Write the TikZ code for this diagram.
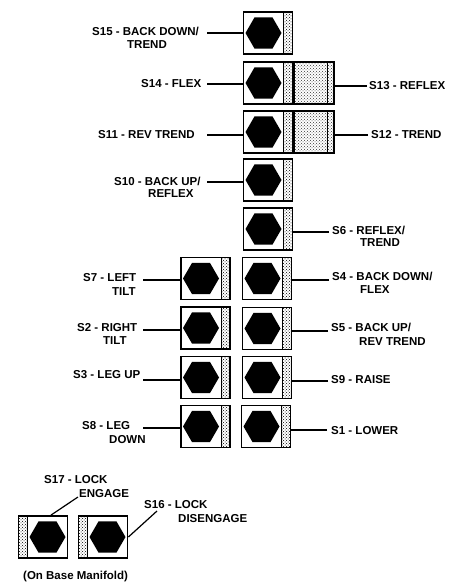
\documentclass[tikz,border=0pt]{standalone}
\usepackage{fontspec}
\setmainfont{Liberation Sans}
\usetikzlibrary{positioning,shapes,patterns}
\tikzset{
    keyright/.style={rectangle, draw, line width=1.8pt, minimum width=49pt, minimum height=42pt, inner sep=0pt,
        path picture={
            \fill[pattern=crosshatch dots, pattern color=black] ([xshift=-9pt]path picture bounding box.north east) rectangle (path picture bounding box.south east);
            \draw[line width=0.7pt] ([xshift=-9pt]path picture bounding box.north east) -- ([xshift=-9pt]path picture bounding box.south east);
            \node[hexcap] at ([xshift=-4.5pt]path picture bounding box.center) {};
        }},
    keyleft/.style={rectangle, draw, line width=1.8pt, minimum width=49pt, minimum height=42pt, inner sep=0pt,
        path picture={
            \fill[pattern=crosshatch dots, pattern color=black] ([xshift=9pt]path picture bounding box.north west) rectangle (path picture bounding box.south west);
            \draw[line width=0.7pt] ([xshift=9pt]path picture bounding box.north west) -- ([xshift=9pt]path picture bounding box.south west);
            \node[hexcap] at ([xshift=4.5pt]path picture bounding box.center) {};
        }},
    keyshaded/.style={rectangle, draw, line width=1.8pt, minimum width=40pt, minimum height=42pt, inner sep=0pt,
        pattern=crosshatch dots, pattern color=black!80,
        path picture={
            \draw[line width=0.7pt] ([xshift=-7pt]path picture bounding box.north east) -- ([xshift=-7pt]path picture bounding box.south east);
        }},
    hexcap/.style={regular polygon, regular polygon sides=6, fill=black, minimum size=36pt, inner sep=0pt},
    keylabel/.style={font=\bfseries\fontsize{11.5pt}{13pt}\selectfont, inner sep=0pt, anchor=west},
    leader/.style={line width=1.2pt}
}

\begin{document}
\begin{tikzpicture}[x=1pt, y=-1pt]
    \useasboundingbox (0,0) rectangle (461,583);

    % left column
    \node[keyright] (s7) at (205.5,278.5) {};
    \node[keyright] (s2) at (205.5,328) {};
    \node[keyright] (s3) at (205.5,377.5) {};
    \node[keyright] (s8) at (205.5,426.5) {};

    % main column
    \node[keyright] (s15) at (268,33) {};
    \node[keyright] (s14) at (268,83) {};
    \node[keyright] (s11) at (268,132) {};
    \node[keyright] (s10) at (268,180) {};
    \node[keyright] (s6) at (268,229) {};
    \node[keyright] (s4) at (267,278.5) {};
    \node[keyright] (s5) at (267,328.5) {};
    \node[keyright] (s9) at (267,377.5) {};
    \node[keyright] (s1) at (266,426.5) {};

    % the dotted ones
    \node[keyshaded, right=0pt of s14] (s13) {};
    \node[keyshaded, right=0pt of s11] (s12) {};

    % base manifold
    \node[keyleft] (s17) at (43,537) {};
    \node[keyleft] (s16) at (103,537) {};

    % left side labels
    \node[keylabel] (l15) at (92,31) {S15 - BACK DOWN/};
    \node[keylabel] (l15b) at (127,45) {TREND};
    \node[keylabel] (l14) at (141,84) {S14 - FLEX};
    \node[keylabel] (l11) at (98,135) {S11 - REV TREND};
    \node[keylabel] (l10) at (114,181) {S10 - BACK UP/};
    \node[keylabel] (l10b) at (148,194) {REFLEX};
    \node[keylabel] (l7) at (83,278) {S7 - LEFT};
    \node[keylabel] (l7b) at (112,292) {TILT};
    \node[keylabel] (l2) at (77,328) {S2 - RIGHT};
    \node[keylabel] (l2b) at (103,341) {TILT};
    \node[keylabel] (l3) at (73,375) {S3 - LEG UP};
    \node[keylabel] (l8) at (82,426) {S8 - LEG};
    \node[keylabel] (l8b) at (109,440) {DOWN};

    % right side labels
    \node[keylabel] (l13) at (369,86) {S13 - REFLEX};
    \node[keylabel] (l12) at (371,135) {S12 - TREND};
    \node[keylabel] (l6) at (332,230) {S6 - REFLEX/};
    \node[keylabel] (l6b) at (360,243) {TREND};
    \node[keylabel] (l4) at (332,276) {S4 - BACK DOWN/};
    \node[keylabel] (l4b) at (360,290) {FLEX};
    \node[keylabel] (l5) at (331,327) {S5 - BACK UP/};
    \node[keylabel] (l5b) at (359,342) {REV TREND};
    \node[keylabel] (l9) at (331,380) {S9 - RAISE};
    \node[keylabel] (l1) at (331,431) {S1 - LOWER};

    % base manifold labels
    \node[keylabel] (l17) at (44,480) {S17 - LOCK};
    \node[keylabel] (l17b) at (79,494) {ENGAGE};
    \node[keylabel] (l16) at (144,505) {S16 - LOCK};
    \node[keylabel] (l16b) at (178,519) {DISENGAGE};
    \node[keylabel] (base) at (23,577) {(On Base Manifold)};

    % free ends of the leaders
    \coordinate (c15) at (207,33);
    \coordinate (c14) at (207,84);
    \coordinate (c11) at (207,135);
    \coordinate (c10) at (207,182);
    \coordinate (c7) at (143,280);
    \coordinate (c2) at (143,330);
    \coordinate (c3) at (143,380);
    \coordinate (c8) at (143,428);
    \coordinate (c13) at (367,86);
    \coordinate (c12) at (368,135);
    \coordinate (c6) at (329,232);
    \coordinate (c4) at (329,280);
    \coordinate (c5) at (328,331);
    \coordinate (c9) at (328,381);
    \coordinate (c1) at (327,430);
    \coordinate (c17) at (78,497);
    \coordinate (c16) at (157,511);

    \draw[leader] (c15) -- (c15 -| s15.west);
    \draw[leader] (c14) -- (c14 -| s14.west);
    \draw[leader] (c11) -- (c11 -| s11.west);
    \draw[leader] (c10) -- (c10 -| s10.west);
    \draw[leader] (c7) -- (c7 -| s7.west);
    \draw[leader] (c2) -- (c2 -| s2.west);
    \draw[leader] (c3) -- (c3 -| s3.west);
    \draw[leader] (c8) -- (c8 -| s8.west);
    \draw[leader] (c13) -- (c13 -| s13.east);
    \draw[leader] (c12) -- (c12 -| s12.east);
    \draw[leader] (c6) -- (c6 -| s6.east);
    \draw[leader] (c4) -- (c4 -| s4.east);
    \draw[leader] (c5) -- (c5 -| s5.east);
    \draw[leader] (c9) -- (c9 -| s9.east);
    \draw[leader] (c1) -- (c1 -| s1.east);
    \draw[leader] (c17) -- (s17.70);
    \draw[leader] (c16) -- (s16.east);
\end{tikzpicture}
\end{document}
